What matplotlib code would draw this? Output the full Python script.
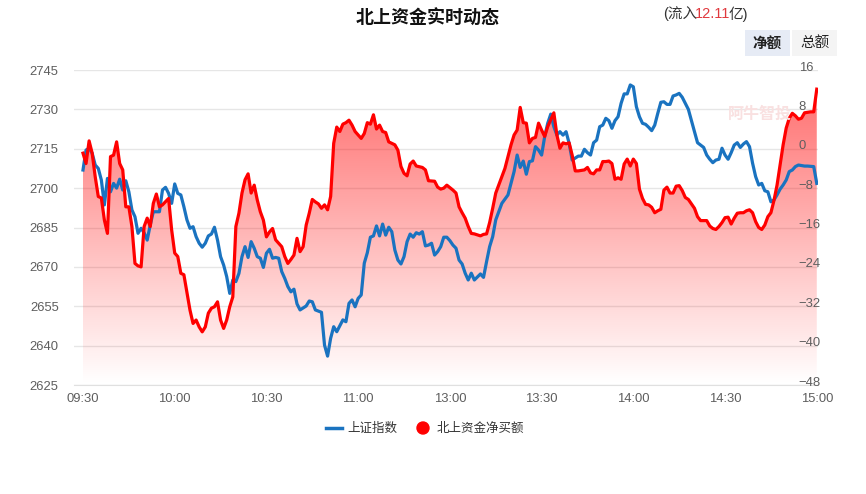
import matplotlib

matplotlib.use("Agg")
import matplotlib.pyplot as plt
import numpy as np
from matplotlib.lines import Line2D
from matplotlib.patches import Circle, FancyBboxPatch
from matplotlib.transforms import ScaledTranslation

plt.rcParams["font.family"] = ["Liberation Sans", "Noto Sans CJK SC", "DejaVu Sans"]

# trading-minute index (0 = 09:30, 120 = 11:30/13:00, 240 = 15:00)
tick_minutes = [0, 30, 60, 90, 120, 150, 180, 210, 240]
tick_labels = ["09:30", "10:00", "10:30", "11:00", "13:00", "13:30", "14:00", "14:30", "15:00"]

index_ticks = [2625, 2640, 2655, 2670, 2685, 2700, 2715, 2730, 2745]
flow_ticks = [-48, -40, -32, -24, -16, -8, 0, 8, 16]

# 上证指数
index_t = [
    0, 1, 2, 3, 4, 5, 6, 7, 8, 9, 10, 11, 12, 13, 14, 15, 16, 17, 18, 19,
    20, 21, 22, 23, 25, 26, 27, 28, 29, 30, 31, 32, 33, 34, 35, 36, 37, 38, 39, 40,
    41, 42, 43, 44, 45, 46, 47, 48, 49, 50, 51, 52, 53, 54, 55, 56, 57, 58, 59, 60,
    61, 62, 63, 64, 65, 66, 67, 68, 69, 70, 71, 73, 74, 75, 76, 78, 79, 80, 81, 82,
    83, 85, 86, 87, 88, 89, 90, 91, 92, 93, 94, 95, 96, 97, 98, 99, 100, 101, 102, 103,
    104, 105, 106, 107, 108, 109, 110, 111, 112, 113, 114, 115, 116, 117, 118, 119, 120, 121, 122, 123,
    124, 125, 126, 127, 128, 130, 131, 132, 133, 134, 135, 136, 137, 139, 140, 141, 142, 143, 144, 145,
    146, 147, 148, 149, 150, 151, 152, 153, 154, 155, 156, 157, 158, 159, 160, 162, 163, 164, 165, 166,
    167, 168, 169, 170, 171, 172, 173, 174, 175, 176, 177, 178, 179, 180, 181, 182, 183, 184, 185, 186,
    187, 188, 189, 190, 191, 192, 193, 194, 195, 196, 197, 198, 199, 200, 201, 202, 203, 204, 205, 206,
    207, 208, 209, 210, 211, 212, 213, 214, 215, 216, 217, 218, 219, 220, 221, 222, 223, 224, 225, 226,
    227, 228, 229, 230, 231, 232, 233, 234, 236, 237, 239, 240,
]
index_v = [
    2706.9, 2714.5, 2715.2, 2713.3, 2708.8, 2707.5, 2703.1, 2693.6, 2703.7, 2698.6,
    2701.8, 2700.0, 2703.4, 2699.3, 2702.8, 2698.6, 2691.7, 2689.1, 2682.8, 2684.7,
    2683.0, 2680.2, 2686.0, 2691.0, 2691.0, 2699.3, 2700.3, 2698.0, 2694.2, 2701.6,
    2698.0, 2697.4, 2692.9, 2687.9, 2684.7, 2685.3, 2681.5, 2679.0, 2677.5, 2679.0,
    2681.8, 2682.5, 2685.1, 2680.2, 2673.9, 2670.7, 2666.3, 2659.9, 2665.0, 2664.4,
    2667.5, 2673.9, 2677.7, 2673.6, 2679.6, 2677.1, 2673.9, 2673.3, 2669.8, 2675.2,
    2676.7, 2673.3, 2673.6, 2673.3, 2668.2, 2665.6, 2662.5, 2660.5, 2661.5, 2655.9,
    2653.6, 2655.1, 2657.0, 2656.7, 2653.6, 2652.7, 2640.2, 2636.0, 2642.8, 2647.2,
    2645.3, 2649.8, 2649.1, 2656.1, 2657.4, 2654.8, 2658.0, 2659.3, 2671.4, 2675.4,
    2681.3, 2681.8, 2685.6, 2681.8, 2686.3, 2682.1, 2685.1, 2683.4, 2676.4, 2672.6,
    2671.1, 2673.9, 2679.6, 2682.5, 2681.3, 2683.0, 2682.5, 2683.4, 2678.0, 2678.3,
    2679.0, 2674.5, 2675.8, 2677.7, 2681.3, 2681.3, 2680.0, 2678.3, 2677.1, 2672.6,
    2671.1, 2667.6, 2665.0, 2667.6, 2665.0, 2667.3, 2666.0, 2672.0, 2677.7, 2681.5,
    2687.9, 2691.0, 2694.2, 2697.4, 2701.8, 2706.3, 2712.6, 2707.9, 2710.3, 2705.3,
    2710.1, 2710.4, 2715.8, 2714.5, 2712.6, 2719.6, 2724.7, 2728.2, 2723.4, 2720.2,
    2721.5, 2720.2, 2721.5, 2717.1, 2710.7, 2712.2, 2712.2, 2714.8, 2713.5, 2712.6,
    2717.3, 2718.3, 2723.4, 2724.0, 2726.6, 2725.7, 2722.8, 2725.7, 2727.2, 2732.3,
    2735.9, 2735.9, 2739.3, 2738.6, 2731.0, 2727.2, 2724.7, 2724.3, 2723.2, 2721.9,
    2724.0, 2728.5, 2732.7, 2732.9, 2731.9, 2731.9, 2735.1, 2735.5, 2736.1, 2734.6,
    2732.3, 2730.0, 2725.7, 2721.5, 2717.3, 2716.4, 2715.5, 2712.6, 2711.0, 2709.7,
    2710.7, 2711.0, 2715.2, 2712.6, 2711.0, 2713.5, 2716.4, 2717.3, 2715.5, 2716.8,
    2717.7, 2715.8, 2709.5, 2704.4, 2701.2, 2701.8, 2699.0, 2698.6, 2694.8, 2695.5,
    2697.4, 2699.6, 2701.2, 2703.1, 2706.3, 2706.9, 2708.2, 2708.8, 2708.4, 2708.4,
    2708.2, 2701.8,
]

# 北上资金净买额 (亿元)
flow_t = [
    0, 1, 2, 3, 4, 5, 6, 7, 8, 9, 10, 11, 12, 13, 14, 15, 16, 17, 18, 19,
    20, 21, 22, 23, 24, 25, 26, 28, 29, 30, 31, 32, 33, 35, 36, 37, 38, 39, 40, 41,
    42, 43, 44, 45, 46, 47, 48, 49, 50, 51, 52, 53, 54, 55, 56, 57, 58, 59, 60, 61,
    62, 63, 64, 65, 66, 67, 68, 69, 70, 71, 72, 73, 74, 75, 76, 77, 78, 79, 80, 81,
    82, 83, 84, 85, 86, 87, 88, 89, 91, 92, 93, 94, 95, 96, 97, 98, 99, 100, 102, 103,
    104, 105, 106, 107, 108, 109, 111, 112, 113, 115, 116, 117, 118, 119, 121, 122, 123, 124, 125, 126,
    127, 128, 130, 131, 132, 133, 134, 135, 137, 138, 139, 140, 141, 142, 143, 144, 145, 146, 147, 148,
    149, 150, 151, 152, 154, 155, 156, 157, 158, 159, 160, 161, 162, 164, 165, 166, 167, 168, 169, 170,
    171, 172, 173, 174, 175, 176, 177, 178, 179, 180, 181, 182, 183, 184, 185, 186, 187, 188, 189, 190,
    191, 192, 193, 194, 195, 196, 197, 198, 200, 201, 202, 204, 205, 206, 207, 208, 209, 210, 211, 212,
    213, 214, 215, 216, 217, 218, 219, 220, 221, 222, 223, 224, 225, 226, 227, 228, 229, 230, 231, 232,
    233, 234, 235, 236, 238, 239, 240,
]
flow_v = [
    -0.9, -3.0, 1.6, -0.9, -5.7, -9.7, -10.0, -14.5, -17.2, -1.6,
    -1.3, 1.4, -3.0, -4.3, -11.8, -11.8, -15.8, -23.3, -23.8, -24.0,
    -15.8, -14.1, -15.8, -11.1, -9.2, -11.8, -11.4, -10.1, -16.5, -21.2,
    -21.9, -25.3, -25.6, -32.8, -35.5, -34.8, -36.2, -37.2, -36.2, -33.4,
    -32.4, -32.1, -31.1, -34.8, -36.5, -34.8, -32.1, -30.1, -15.8, -13.1,
    -9.0, -6.3, -5.1, -9.0, -7.4, -10.4, -12.8, -14.5, -17.9, -16.9,
    -16.2, -18.5, -19.2, -19.9, -21.9, -23.3, -22.5, -21.6, -18.2, -20.9,
    -19.9, -15.5, -13.1, -10.3, -10.8, -11.2, -12.1, -11.4, -12.4, -9.7,
    1.1, 4.4, 3.5, 5.0, 5.3, 5.8, 4.8, 3.5, 2.1, 3.1,
    5.3, 5.0, 6.9, 4.0, 4.8, 3.5, 3.3, 1.4, 0.8, -0.3,
    -3.6, -5.0, -5.5, -3.1, -2.5, -3.5, -3.8, -4.3, -6.5, -6.6,
    -7.8, -8.2, -8.0, -7.4, -8.4, -9.0, -11.8, -13.0, -14.1, -15.8,
    -17.2, -17.3, -17.7, -17.4, -17.3, -15.0, -12.1, -9.0, -5.7, -4.0,
    -1.6, 0.8, 2.8, 3.8, 8.4, 5.3, 5.2, 1.2, 2.1, 2.3,
    5.2, 3.8, 2.5, 4.5, 7.3, 2.8, 0.1, 1.2, 1.0, 1.2,
    -1.3, -4.5, -4.5, -4.3, -3.8, -4.9, -5.1, -4.3, -4.3, -2.6,
    -2.6, -2.5, -3.0, -6.2, -5.9, -6.2, -3.1, -2.1, -3.5, -2.1,
    -3.0, -8.2, -10.1, -11.3, -11.4, -11.9, -13.0, -12.6, -12.3, -8.4,
    -7.8, -9.0, -9.0, -7.6, -7.5, -8.5, -9.9, -10.3, -12.1, -13.8,
    -14.6, -14.6, -15.7, -16.2, -16.4, -15.8, -15.0, -14.0, -13.9, -15.3,
    -14.1, -13.1, -13.0, -13.0, -12.6, -12.4, -13.0, -14.8, -16.0, -16.4,
    -15.5, -13.8, -13.0, -10.5, -7.4, -3.3, 0.8, 4.2, 6.2, 7.2,
    6.7, 6.0, 6.2, 7.3, 7.5, 7.5, 12.11,
]

index_name = "上证指数"
flow_name = "北上资金净买额"
title = "北上资金实时动态"
inflow_label = "12.11"

BLUE = "#1a73c0"
RED = "#ff0000"
GRID = "#e6e6e6"
TICK = "#5e5e5e"

fig = plt.figure(figsize=(8.66, 4.94), dpi=100)
ax = fig.add_axes([74 / 866, 1 - 385 / 494, 744 / 866, 315 / 494])
ax2 = ax.twinx()

x_lo, x_hi = -2.94, 240.4

# gradient area under the net-buy line (drawn on the left axes, in right-axes data)
area = ax.fill_between(flow_t, flow_v, flow_ticks[0], transform=ax2.transData,
                       facecolor="none", edgecolor="none")
grad = np.zeros((256, 1, 4))
grad[..., 0] = 1.0
grad[..., 3] = np.linspace(0.56, 0.0, 256)[:, None]
img = ax.imshow(grad, extent=[x_lo, x_hi, flow_ticks[0], max(flow_v)], aspect="auto",
                origin="upper", transform=ax2.transData, zorder=1, interpolation="bilinear")
img.set_clip_path(area.get_paths()[0], transform=ax2.transData)

ax.plot(index_t, index_v, color=BLUE, lw=2.3, zorder=3, solid_joinstyle="round")
ax2.plot(flow_t, flow_v, color=RED, lw=2.3, zorder=3, solid_joinstyle="round")

ax.set_xlim(x_lo, x_hi)
ax.set_ylim(index_ticks[0], index_ticks[-1])
ax2.set_ylim(flow_ticks[0], flow_ticks[-1])

ax.set_yticks(index_ticks)
ax2.set_yticks(flow_ticks)
ax.set_xticks(tick_minutes)
ax.set_xticklabels(tick_labels)
ax2.set_yticklabels([f"{v:g}".replace("-", "\u2212") for v in flow_ticks])

ax.grid(axis="y", color=GRID, lw=1)
ax.set_axisbelow(True)
for a in (ax, ax2):
    for s in a.spines.values():
        s.set_visible(False)
ax.spines["bottom"].set_visible(True)
ax.spines["bottom"].set_color("#e0e0e0")

ax.tick_params(axis="y", length=0, pad=11, labelsize=9.4, labelcolor=TICK)
ax.tick_params(axis="x", length=0, pad=6, labelsize=9.4, labelcolor=TICK)
ax2.tick_params(axis="y", length=0, pad=-14, labelsize=9.4, labelcolor=TICK)
for lab in ax2.get_yticklabels():
    lab.set_transform(lab.get_transform() + ScaledTranslation(0, 4 / 100, fig.dpi_scale_trans))

# watermark
fig.text(728 / 866, 1 - 114 / 494, "阿牛智投", fontsize=11.5, fontweight="bold",
         color="#f9e0e0", family=["Noto Sans CJK SC"], va="center", zorder=0)

# title and inflow note
fig.text(428 / 866, 1 - 18 / 494, title, fontsize=13, fontweight="bold", color="#111111",
         ha="center", va="center", family=["Noto Sans CJK SC"])
fig.canvas.draw()
r = fig.canvas.get_renderer()
x0 = 663 / 866
parts = [("(流入", "#333333"), (inflow_label, "#e0393e"), ("亿)", "#333333")]
for txt, col in parts:
    t = fig.text(x0, 1 - 14 / 494, txt, fontsize=10.5, color=col, va="center",
                 family=["Liberation Sans", "Noto Sans CJK SC"])
    w = t.get_window_extent(renderer=r).width
    x0 += (w - 2) / fig.bbox.width

# mode buttons
for (bx, label, bg) in [(745, "净额", "#e6ebf5"), (792, "总额", "#f4f4f4")]:
    fig.patches.append(FancyBboxPatch((bx / 866, 1 - 56 / 494), 45 / 866, 26 / 494,
                                      boxstyle="square,pad=0", transform=fig.transFigure,
                                      facecolor=bg, edgecolor="none"))
    fig.text((bx + 22.5) / 866, 1 - 43 / 494, label, fontsize=10.5, ha="center", va="center",
             color="#222222", fontweight="bold" if label == "净额" else "normal",
             family=["Noto Sans CJK SC"])

# legend
ly = 1 - 428 / 494
fig.add_artist(Line2D([326 / 866, 342 / 866], [ly, ly], color=BLUE, lw=2.5,
                      transform=fig.transFigure))
fig.text(347 / 866, ly, index_name, fontsize=9, va="center", color="#333333",
         family=["Noto Sans CJK SC"])
fig.add_artist(Circle((4.23, 0.66), 0.06, color=RED, transform=fig.dpi_scale_trans))
fig.text(437 / 866, ly, flow_name, fontsize=9, va="center", color="#333333",
         family=["Noto Sans CJK SC"])

fig.savefig("out.png", dpi=100, facecolor="white")
